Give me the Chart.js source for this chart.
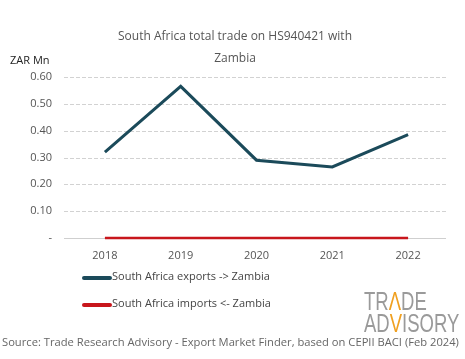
<!DOCTYPE html>
<html>
<head>
<meta charset="utf-8">
<script src="https://cdn.jsdelivr.net/npm/chart.js@4"></script>
<style>
  html, body { margin: 0; padding: 0; background: #fff; }
  #wrap { width: 465px; height: 359px; }
</style>
</head>
<body>
<div id="wrap"><canvas id="myChart" width="465" height="359"></canvas></div>
<script>
const years = ['2018', '2019', '2020', '2021', '2022'];
const exportsZAR = [0.32, 0.565, 0.29, 0.265, 0.385];
const importsZAR = [0, 0, 0, 0, 0];
const yTicks = [0, 0.1, 0.2, 0.3, 0.4, 0.5, 0.6];

const FONT = "'Open Sans', 'Noto Sans', sans-serif";

const grid = {
    id: 'dashgrid',
    beforeDatasetsDraw(chart) {
        const c = chart.ctx, a = chart.chartArea, ys = chart.scales.y;
        c.save();
        c.lineWidth = 1;
        for (const v of yTicks) {
            const y = Math.round(ys.getPixelForValue(v)) + 0.5;
            c.strokeStyle = v === 0 ? '#cfcfcf' : '#d2d2d2';
            c.setLineDash(v === 0 ? [] : [4, 2]);
            c.beginPath();
            c.moveTo(a.left - 3, y);
            c.lineTo(a.right, y);
            c.stroke();
        }
        c.restore();
    }
};

const extras = {
    id: 'extras',
    afterDraw(chart) {
        const c = chart.ctx;
        c.save();
        // title
        c.fillStyle = '#555';
        c.font = '12px ' + FONT;
        c.textAlign = 'center';
        c.textBaseline = 'middle';
        c.fillText('South Africa total trade on HS940421 with', 235, 37);
        c.fillText('Zambia', 235, 59);
        // unit
        c.fillStyle = '#222';
        c.font = '11px ' + FONT;
        c.textAlign = 'left';
        c.fillText('ZAR Mn', 10, 61);
        // legend
        c.font = '11px ' + FONT;
        c.fillStyle = '#444';
        chart.data.datasets.forEach((ds, i) => {
            const y = 277 + i * 27;
            c.strokeStyle = ds.borderColor;
            c.lineWidth = 4;
            c.lineCap = 'round';
            c.beginPath();
            c.moveTo(84, y + 1);
            c.lineTo(110, y + 1);
            c.stroke();
            c.fillText(ds.label, 112, y);
        });
        // source
        c.fillStyle = '#666';
        c.font = '11.2px ' + FONT;
        c.fillText('Source: Trade Research Advisory - Export Market Finder, based on CEPII BACI (Feb 2024)', 2, 343);
        // logo
        c.font = "300 25px 'Liberation Sans', 'DejaVu Sans', sans-serif";
        c.textBaseline = 'alphabetic';
        const parts1 = [['TR', '#9a9a9a'], ['\u039B', '#f0a020'], ['DE', '#9a9a9a']];
        const parts2 = [['AD', '#9a9a9a'], ['V', '#f0a020'], ['ISORY', '#9a9a9a']];
        c.translate(364, 0);
        c.scale(0.74, 1);
        [[parts1, 310], [parts2, 332]].forEach(([parts, yy]) => {
            let x = 0;
            parts.forEach(([t, col]) => {
                c.fillStyle = col;
                c.fillText(t, x, yy);
                x += c.measureText(t).width;
            });
        });
        c.restore();
    }
};

new Chart(document.getElementById('myChart'), {
    type: 'line',
    data: {
        labels: years,
        datasets: [{
            label: 'South Africa exports -> Zambia',
            data: exportsZAR,
            borderColor: '#1b4a5a',
            backgroundColor: '#1b4a5a',
            borderWidth: 3,
            pointRadius: 0,
            tension: 0,
            clip: false,
        }, {
            label: 'South Africa imports <- Zambia',
            data: importsZAR,
            borderColor: '#c8161c',
            backgroundColor: '#c8161c',
            borderWidth: 2.5,
            pointRadius: 0,
            tension: 0,
            clip: false,
        }],
    },
    options: {
        responsive: false,
        animation: false,
        layout: {
            padding: { top: 77, right: 19, bottom: 91, left: 0 }
        },
        plugins: {
            legend: { display: false },
            title: { display: false },
            tooltip: { enabled: false },
        },
        scales: {
            x: {
                offset: true,
                afterFit: s => { s.height = 30; },
                grid: { display: false, drawTicks: false },
                border: { display: false },
                ticks: { color: '#555', font: { family: FONT, size: 11 }, padding: 11 },
            },
            y: {
                min: 0,
                max: 0.6,
                afterFit: s => { s.width = 67; },
                afterBuildTicks: s => { s.ticks = yTicks.map(v => ({ value: v })); },
                grid: { display: false, drawTicks: false },
                border: { display: false },
                ticks: {
                    color: '#555',
                    padding: 15,
                    font: { family: FONT, size: 11 },
                    callback: v => v === 0 ? '-' : v.toFixed(2),
                },
            },
        },
    },
    plugins: [grid, extras],
});
</script>
</body>
</html>
